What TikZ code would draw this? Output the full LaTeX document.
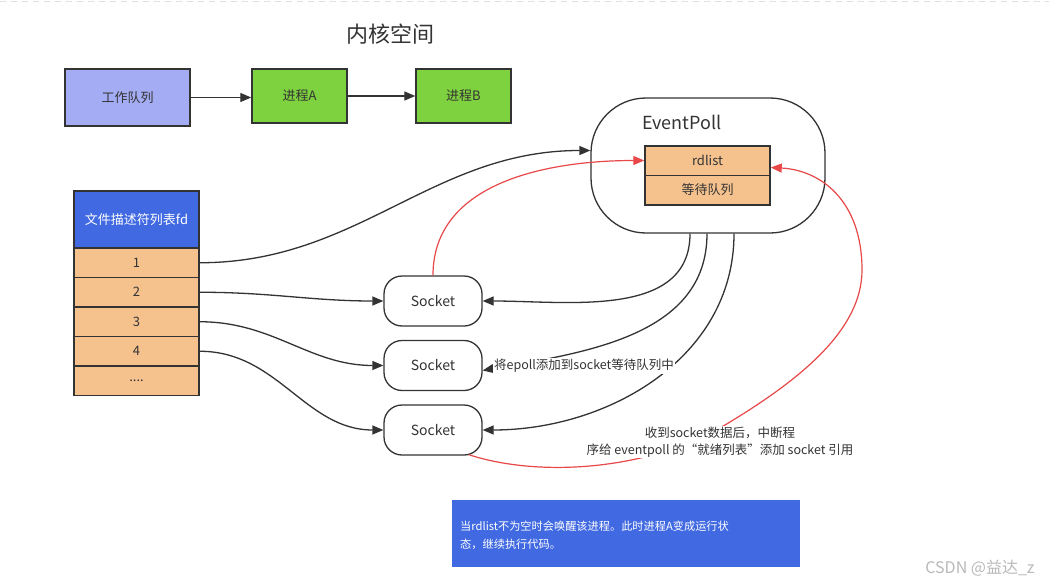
\documentclass[tikz,border=0pt]{standalone}
\usepackage{fontspec}
\setmainfont{Noto Sans CJK SC}
\usetikzlibrary{arrows.meta,calc}
\definecolor{dk}{HTML}{333333}
\definecolor{lav}{HTML}{A4ACF4}
\definecolor{grn}{HTML}{7ED13F}
\definecolor{peach}{HTML}{F5C28E}
\definecolor{royal}{HTML}{4169E1}
\definecolor{rd}{HTML}{E84848}
\definecolor{txt}{HTML}{333333}
\tikzset{
  box/.style={draw=dk, line width=1.5pt, text=txt, inner sep=0pt, font=\fontsize{13}{16}\selectfont},
  sock/.style={draw=dk, line width=1.3pt, rounded corners=18pt, minimum width=98pt, minimum height=50pt, text=txt, font=\fontsize{14}{17}\selectfont},
  conn/.style={draw=dk, line width=1.3pt, -{Triangle[length=11pt,width=9pt]}},
  rconn/.style={draw=rd, line width=1.2pt, -{Triangle[length=11pt,width=9pt]}},
  lbl/.style={fill=white, text=txt, inner sep=1pt, font=\fontsize{12.5}{17}\selectfont, align=center},
}
\begin{document}
\begin{tikzpicture}[x=1pt,y=1pt]
\useasboundingbox (0,0) rectangle (1049,-586);
\fill[white] (0,0) rectangle (1049,-586);
\draw[gray!25, line width=0.7pt, dash pattern=on 6pt off 5pt] (0,-1) -- (1049,-1);

% title
\node[text=txt, font=\fontsize{22}{26}\selectfont] (title) at (390,-34) {内核空间};

% top row
\node[box, fill=lav, minimum width=125pt, minimum height=57pt] (wq) at (127.5,-97.5) {工作队列};
\node[box, fill=grn, minimum width=95pt, minimum height=54pt] (pa) at (299.5,-96) {进程A};
\node[box, fill=grn, minimum width=95pt, minimum height=54pt] (pb) at (463.5,-96) {进程B};
\draw[conn] (wq.east) -- (wq.east -| pa.west);
\draw[conn] (pa.east) -- (pb.west);

% EventPoll
\node[draw=dk, line width=1.3pt, rounded corners=55pt, minimum width=234pt, minimum height=135pt] (ep) at (708,-165.5) {};
\node[text=txt, font=\fontsize{18}{22}\selectfont] (eplbl) at (682,-122) {EventPoll};
\node[box, fill=peach, minimum width=125pt, minimum height=29.5pt] (rd) at (707.5,-160.5) {rdlist};
\node[box, fill=peach, minimum width=125pt, minimum height=29.5pt] (wait) at (707.5,-190) {等待队列};

% fd table
\node[box, fill=royal, text=white, minimum width=125pt, minimum height=57pt] (fdh) at (136.5,-219.5) {文件描述符列表fd};
\node[box, fill=peach, minimum width=125pt, minimum height=29.5pt] (f1) at (136.5,-262.75) {1};
\node[box, fill=peach, minimum width=125pt, minimum height=29.5pt] (f2) at (136.5,-292.25) {2};
\node[box, fill=peach, minimum width=125pt, minimum height=29.5pt] (f3) at (136.5,-321.75) {3};
\node[box, fill=peach, minimum width=125pt, minimum height=29.5pt] (f4) at (136.5,-351.25) {4};
\node[box, fill=peach, minimum width=125pt, minimum height=29.5pt] (f5) at (136.5,-380.75) {....};

% sockets
\node[sock] (s1) at (433,-301) {Socket};
\node[sock] (s2) at (433,-365.5) {Socket};
\node[sock] (s3) at (433,-430) {Socket};

% fd connectors
\coordinate (epin) at ($(ep.west)+(0,15)$);
\draw[conn] (f1.east) to[out=0,in=180] (epin);
\draw[conn] (f2.east) to[out=0,in=180] (s1.west);
\draw[conn] (f3.east) to[out=0,in=180] (s2.west);
\draw[conn] (f4.east) to[out=0,in=180] (s3.west);

% eventpoll -> sockets
\coordinate (e1) at ($(ep.south)+(-18,0)$);
\coordinate (e2) at ($(ep.south)+(-1,0)$);
\coordinate (e3) at ($(ep.south)+(26,0)$);
\coordinate (s2in) at ($(s2.east)+(0,-5)$);
\draw[conn] (e1) to[out=-90,in=0] (s1.east);
\draw[conn] (e2) to[out=-90,in=10] (s2in);
\draw[conn] (e3) to[out=-90,in=0] (s3.east);
\node[lbl] (l2) at (584,-366) {将epoll添加到socket等待队列中};

% red connectors
\draw[rconn] (s1.north) to[out=90,in=180] (rd.west);
\coordinate (r0) at ($(s3.south east)+(-14,1)$);
\coordinate (rend) at ($(rd.east)+(0,-7)$);
\draw[rconn] (r0) .. controls (540,-478) and (650,-470) .. (725,-425)
  .. controls (800,-380) and (862,-330) .. (862,-270)
  .. controls (862,-200) and (820,-170) .. (rend);
\node[lbl] (l3) at (720,-442) {收到socket数据后，中断程\\序给 eventpoll 的“就绪列表”添加 socket 引用};

% note
\node[fill=royal, minimum width=348pt, minimum height=67pt, inner sep=0pt] (note) at (626,-533.5) {};
\node[text=white, anchor=west, align=left, inner sep=0pt, font=\fontsize{11.2}{18}\selectfont] (notetxt) at (460,-535) {当rdlist不为空时会唤醒该进程。此时进程A变成运行状\\态，继续执行代码。};

% watermark
\node[text=gray!55, font=\fontsize{16}{19}\selectfont] (wm) at (980,-568) {CSDN @益达\_z};
\end{tikzpicture}
\end{document}
